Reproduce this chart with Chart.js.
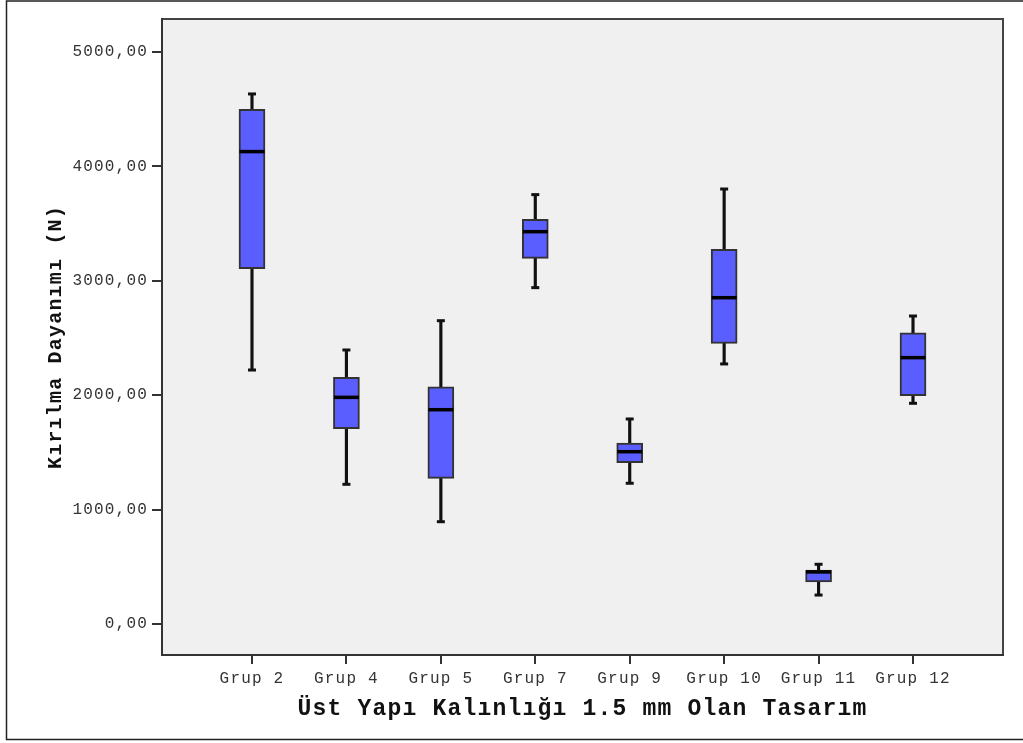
<!DOCTYPE html>
<html><head><meta charset="utf-8">
<script src="https://cdn.jsdelivr.net/npm/chart.js@4.4.1/dist/chart.umd.min.js"></script>
<style>html,body{margin:0;padding:0;background:#fff;} canvas{display:block;}</style>
</head><body>
<canvas id="c" width="1023" height="743"></canvas>
<script>
const categories = ['Grup 2','Grup 4','Grup 5','Grup 7','Grup 9','Grup 10','Grup 11','Grup 12'];
const whiskerLow  = [2220, 1221,  894, 2940, 1230, 2273, 253, 1929];
const quartile1   = [3106, 1707, 1273, 3196, 1410, 2453, 367, 1996];
const medians     = [4129, 1981, 1873, 3429, 1506, 2852, 455, 2328];
const quartile3   = [4499, 2156, 2074, 3537, 1582, 3275, 472, 2544];
const whiskerHigh = [4633, 2395, 2651, 3753, 1792, 3802, 522, 2692];
const yTickValues = [0, 1000, 2000, 3000, 4000, 5000];
const yTitle = 'Kırılma Dayanımı (N)';
const xTitle = 'Üst Yapı Kalınlığı 1.5 mm Olan Tasarım';

const SPACING = '1.2px';
const framePlugin = {
  id: 'frame',
  beforeLayout(chart) { chart.ctx.letterSpacing = SPACING; },
  beforeDraw(chart) {
    const {ctx, chartArea: a} = chart;
    ctx.save();
    ctx.fillStyle = '#fff';
    ctx.fillRect(0, 0, chart.width, chart.height);
    ctx.strokeStyle = '#222';
    ctx.lineWidth = 1.5;
    ctx.beginPath();
    ctx.moveTo(chart.width, 1); ctx.lineTo(6.5, 1); ctx.lineTo(6.5, 739.5); ctx.lineTo(chart.width, 739.5);
    ctx.stroke();
    ctx.fillStyle = '#f0f0f0';
    ctx.fillRect(a.left, a.top, a.width, a.height);
    ctx.strokeStyle = '#444';
    ctx.lineWidth = 2;
    ctx.strokeRect(a.left, a.top, a.width, a.height);
    ctx.restore();
    ctx.letterSpacing = SPACING;
  }
};

const tickFont = {family: 'Liberation Mono', size: 16};
new Chart(document.getElementById('c'), {
  type: 'bar',
  data: {
    datasets: [
      {
        type: 'scatter', label: 'Medyan',
        data: medians.map((v, i) => ({x: i, y: v})),
        pointStyle: 'line', pointRadius: 12.5, pointBorderColor: '#000', pointBorderWidth: 3.5,
        order: 1
      },
      {
        type: 'bar', label: 'Kutu',
        data: categories.map((_, i) => ({x: i, y: [quartile1[i], quartile3[i]]})),
        backgroundColor: '#5b5eff', borderColor: '#333', borderWidth: 2, borderSkipped: false,
        barThickness: 26, grouped: false, order: 2
      },
      {
        type: 'scatter', label: 'Uçlar',
        data: whiskerHigh.map((v, i) => ({x: i, y: v})).concat(whiskerLow.map((v, i) => ({x: i, y: v}))),
        pointStyle: 'line', pointRadius: 4, pointBorderColor: '#111', pointBorderWidth: 3,
        order: 3
      },
      {
        type: 'bar', label: 'Bıyık',
        data: categories.map((_, i) => ({x: i, y: [whiskerLow[i], whiskerHigh[i]]})),
        backgroundColor: '#111', borderWidth: 0, barThickness: 2.5, grouped: false, order: 4
      }
    ]
  },
  options: {
    responsive: false,
    animation: false,
    events: [],
    layout: {padding: {top: 19, right: 20, left: 0, bottom: 0}},
    plugins: {legend: {display: false}, tooltip: {enabled: false}},
    scales: {
      x: {
        type: 'linear', min: -0.953, max: 7.953, offset: false,
        afterBuildTicks: s => { s.ticks = categories.map((_, i) => ({value: i})); },
        ticks: {callback: v => categories[v], font: tickFont, color: '#333', padding: 5, maxRotation: 0, autoSkip: false},
        grid: {display: true, drawOnChartArea: false, drawTicks: true, tickLength: 9, color: '#333', lineWidth: 2, offset: false},
        border: {display: true, color: '#333', width: 2},
        title: {display: true, text: xTitle, font: {family: 'Liberation Mono', size: 23, weight: 'bold'}, color: '#111', padding: {top: 0, bottom: 20}},
        afterFit: s => { s.height = 88; }
      },
      y: {
        type: 'linear', min: -271, max: 5288, beginAtZero: false,
        afterBuildTicks: s => { s.ticks = yTickValues.map(v => ({value: v})); },
        ticks: {callback: v => v.toFixed(2).replace('.', ','), font: tickFont, color: '#333', padding: 4},
        grid: {drawOnChartArea: false, tickLength: 10, color: '#333', lineWidth: 2},
        border: {display: true, color: '#333', width: 2},
        title: {display: true, text: yTitle, font: {family: 'Liberation Mono', size: 20, weight: 'bold'}, color: '#111', padding: {top: 44, bottom: 0}},
        afterFit: s => { s.width = 162; }
      }
    }
  },
  plugins: [framePlugin]
});
</script>
</body></html>
